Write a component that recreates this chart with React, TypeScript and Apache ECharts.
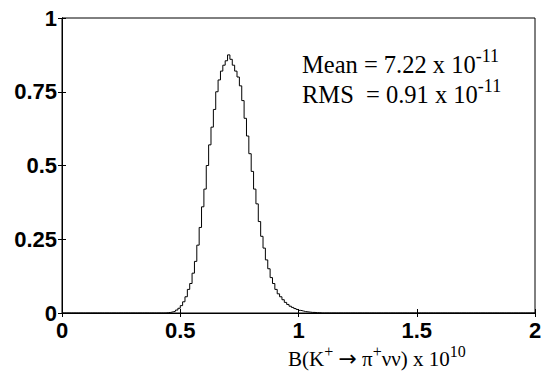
import React, { useEffect, useRef } from "react";
import * as echarts from "echarts";

// Histogram: bin width 0.01, first non-empty bin starts at 0.44
const binWidth = 0.01;
const firstBin = 0.44;
const binCount = 200; // 0 .. 2
const counts = [
  0.001, 0.002, 0.004, 0.006, 0.010, 0.016, 0.025, 0.038, 0.055, 0.080,
  0.100, 0.135, 0.175, 0.230, 0.290, 0.360, 0.420, 0.500, 0.570, 0.630,
  0.690, 0.750, 0.790, 0.820, 0.840, 0.855, 0.875, 0.860, 0.840, 0.820,
  0.800, 0.770, 0.720, 0.660, 0.600, 0.540, 0.480, 0.420, 0.370, 0.310,
  0.260, 0.220, 0.180, 0.150, 0.120, 0.100, 0.080, 0.065, 0.055, 0.045,
  0.036, 0.029, 0.023, 0.019, 0.015, 0.012, 0.009, 0.007, 0.005, 0.004,
  0.003, 0.002, 0.002, 0.001, 0.001,
];
const xTicks = [0, 0.5, 1, 1.5, 2];
const yTicks = [0, 0.25, 0.5, 0.75, 1];

const meanText = "Mean = 7.22 x 10";
const meanExp = "-11";
const rmsText = "RMS  = 0.91 x 10";
const rmsExp = "-11";

export default function App() {
  const ref = useRef<HTMLDivElement>(null);
  useEffect(() => {
    if (!ref.current) return;
    const chart = echarts.init(ref.current, null, { renderer: "svg" });
    const startIdx = Math.round(firstBin / binWidth);
    const data: number[][] = [];
    for (let i = 0; i < binCount; i++) {
      const k = i - startIdx;
      const v = k >= 0 && k < counts.length ? counts[k] : 0;
      data.push([i / 100, v]);
    }
    data.push([2, 0]);
    const labelFont = {
      fontFamily: "'Liberation Sans', Arial, sans-serif",
      fontWeight: "bold" as const,
      fontSize: 22,
      color: "#000",
    };
    const serif = "'Liberation Serif', 'Times New Roman', serif";
    const tick = { show: true, inside: true, length: 4, lineStyle: { color: "#000" } };
    const line = { show: true, lineStyle: { color: "#000", width: 1 } };
    chart.setOption({
      animation: false,
      grid: {
        left: 62,
        right: 15,
        top: 18,
        bottom: 63,
        show: true,
        borderColor: "#000",
        borderWidth: 1,
        backgroundColor: "#fff",
      },
      xAxis: [
        {
          type: "value",
          min: 0,
          max: 2,
          interval: 0.5,
          axisLine: line,
          axisTick: tick,
          splitLine: { show: false },
          axisLabel: {
            ...labelFont,
            margin: 6,
            formatter: (v: number) => (xTicks.includes(v) ? String(v) : ""),
          },
        },
        {
          type: "value",
          position: "top",
          min: 0,
          max: 2,
          interval: 0.5,
          axisLine: line,
          axisTick: tick,
          splitLine: { show: false },
          axisLabel: { show: false },
        },
      ],
      yAxis: [
        {
          type: "value",
          min: 0,
          max: 1,
          interval: 0.25,
          axisLine: line,
          axisTick: tick,
          splitLine: { show: false },
          axisLabel: {
            ...labelFont,
            margin: 5,
            formatter: (v: number) => (yTicks.includes(v) ? String(v) : ""),
          },
        },
        {
          type: "value",
          position: "right",
          min: 0,
          max: 1,
          interval: 0.25,
          axisLine: line,
          axisTick: tick,
          splitLine: { show: false },
          axisLabel: { show: false },
        },
      ],
      series: [
        {
          type: "line",
          step: "end",
          data,
          symbol: "none",
          lineStyle: { color: "#000", width: 1 },
          xAxisIndex: 0,
          yAxisIndex: 0,
        },
      ],
      graphic: [
        {
          type: "text",
          left: 302,
          top: 47,
          style: {
            text: `{a|${meanText}}{s|${meanExp}}`,
            rich: {
              a: { fontFamily: serif, fontSize: 24.5, fill: "#000", lineHeight: 35 },
              s: { fontFamily: serif, fontSize: 18, fill: "#000", verticalAlign: "top", lineHeight: 18 },
            },
          },
        },
        {
          type: "text",
          left: 302,
          top: 77,
          style: {
            text: `{a|${rmsText}}{s|${rmsExp}}`,
            rich: {
              a: { fontFamily: serif, fontSize: 24.5, fill: "#000", lineHeight: 35 },
              s: { fontFamily: serif, fontSize: 18, fill: "#000", verticalAlign: "top", lineHeight: 18 },
            },
          },
        },
        {
          type: "text",
          left: 288,
          top: 343,
          style: {
            text: "{a|B(K}{s|+}{a| }{r|→}{a| π}{s|+}{a|νν) x 10}{s|10}",
            rich: {
              a: { fontFamily: serif, fontSize: 21, fill: "#000", lineHeight: 31 },
              r: { fontFamily: "'DejaVu Sans', sans-serif", fontSize: 22, fill: "#000", lineHeight: 31 },
              s: { fontFamily: serif, fontSize: 16, fill: "#000", verticalAlign: "top", lineHeight: 16 },
            },
          },
        },
      ],
    });
    return () => chart.dispose();
  }, []);
  return <div ref={ref} style={{ width: 550, height: 376, position: "absolute", left: 0, top: 0 }} />;
}
